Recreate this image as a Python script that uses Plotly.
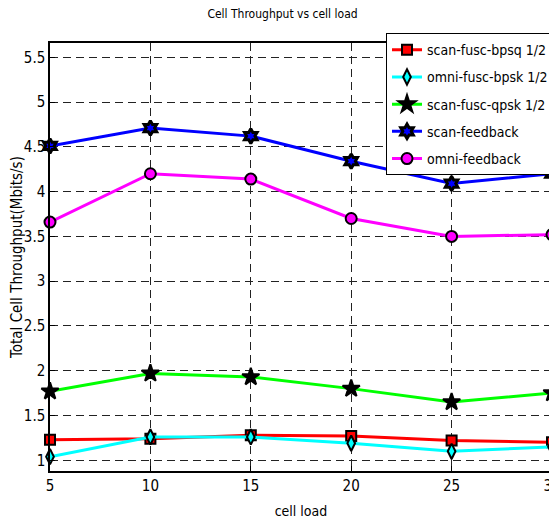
import plotly.graph_objects as go

cell_load = [5, 10, 15, 20, 25, 30]
scan_fusc_bpsq = [1.23, 1.24, 1.28, 1.27, 1.22, 1.20]
omni_fusc_bpsk = [1.04, 1.26, 1.26, 1.19, 1.10, 1.15]
scan_fusc_qpsk = [1.77, 1.97, 1.93, 1.80, 1.65, 1.75]
scan_feedback = [4.51, 4.71, 4.62, 4.34, 4.09, 4.20]
omni_feedback = [3.66, 4.20, 4.14, 3.70, 3.50, 3.52]

yticks = [1, 1.5, 2, 2.5, 3, 3.5, 4, 4.5, 5, 5.5]
font = "DejaVu Sans Condensed, Liberation Sans Narrow, Liberation Sans, Arial"

# page body has an 8px margin, so the figure is sized to fit inside the window
fig = go.Figure()
series = [
    ("scan-fusc-bpsq 1/2", scan_fusc_bpsq, "red", "square", "red", 10, 2),
    ("omni-fusc-bpsk 1/2", omni_fusc_bpsk, "cyan", "diamond-tall", "cyan", 11, 2),
    ("scan-fusc-qpsk 1/2", scan_fusc_qpsk, "#00ff00", "star", "black", 13, 2),
    ("scan-feedback", scan_feedback, "blue", "hexagram", "blue", 11, 3),
    ("omni-feedback", omni_feedback, "magenta", "circle", "magenta", 11, 2),
]
for name, vals, col, sym, fill, sz, lw in series:
    fig.add_trace(go.Scatter(
        x=cell_load, y=vals, name=name, mode="lines+markers", legendgroup=name,
        line=dict(color=col, width=3),
        marker=dict(symbol=sym, size=sz, color=fill, line=dict(color="black", width=lw)),
        cliponaxis=False,
    ))

fig.update_layout(
    width=549, height=511,
    margin=dict(l=42, r=4, t=35, b=48),
    paper_bgcolor="white", plot_bgcolor="white",
    font=dict(family=font, size=15, color="black"),
    title=dict(text="Cell Throughput vs cell load", x=0.5, xanchor="center",
               y=0.988, yanchor="middle", font=dict(size=12)),
    legend=dict(x=1.002, y=1.023, xanchor="right", yanchor="top",
                bordercolor="black", borderwidth=1, bgcolor="white",
                font=dict(size=14), tracegroupgap=6),
    showlegend=True,
)
fig.update_xaxes(
    range=[5, 30], tickvals=cell_load, showline=True, linecolor="black", linewidth=1.5,
    mirror=True, ticks="inside", ticklen=5, tickcolor="black",
    showgrid=True, gridcolor="#222222", griddash="8px,5px", gridwidth=1,
    zeroline=False, automargin=False, ticklabeloverflow="allow",
    title=dict(text="cell load", standoff=14, font=dict(size=14)),
)
fig.update_yaxes(
    range=[0.88, 5.66], tickvals=yticks, ticktext=[f"{v:g}" for v in yticks],
    showline=True, linecolor="black", linewidth=1.5,
    mirror=True, ticks="inside", ticklen=5, tickcolor="black",
    showgrid=True, gridcolor="#222222", griddash="8px,5px", gridwidth=1,
    zeroline=False, automargin=False,
    title=dict(text="Total Cell Throughput(Mbits/s)", standoff=4, font=dict(size=15)),
)
fig.write_html("out.html")
